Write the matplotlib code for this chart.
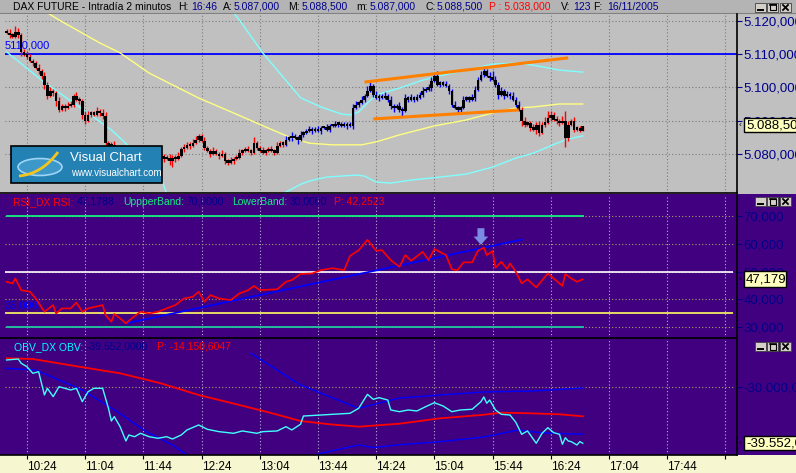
# -*- coding: utf-8 -*-
# DAX future, 2 minute bars of 16/11/2005, redrawn in the Visual Chart look

import matplotlib
matplotlib.use("Agg")
from matplotlib import pyplot as plt
import matplotlib.transforms as mtransforms
from matplotlib.patches import Rectangle, Ellipse, PathPatch
from matplotlib.path import Path
from matplotlib.lines import Line2D
import numpy as np

plt.rcParams["font.family"] = ["Liberation Sans", "DejaVu Sans"]

W, H = 796, 473

# ---- price bars, every 2 minutes from 10:10 to 16:46 ----
first_bar_time = "10:10"
bar_minutes = 2
first_open = 5117.0
closes = [
    5116.5, 5116, 5115.5, 5117, 5116, 5111, 5110, 5109.5, 5108, 5107.5,
    5106, 5105, 5103.5, 5101, 5097.5, 5099, 5098.5, 5096, 5093.5, 5094.5,
    5094, 5094.5, 5095, 5097.5, 5096.5, 5096, 5092, 5090, 5092, 5092.5,
    5092, 5093, 5092.5, 5091.5, 5083.5, 5082.5, 5083, 5082, 5081.5, 5081,
    5080.5, 5081, 5080, 5079.5, 5080, 5079, 5078.5, 5079, 5078, 5078.5,
    5079, 5078.5, 5079, 5079.5, 5078.5, 5079, 5078, 5079, 5078.5, 5079.5,
    5081.5, 5082, 5083, 5082.5, 5083.5, 5084.5, 5085.5, 5084, 5082, 5081,
    5080, 5081, 5080, 5079.5, 5080, 5078, 5077.5, 5078, 5078.5, 5079,
    5080.5, 5081, 5081.5, 5081, 5080.5, 5083.5, 5082, 5081, 5080.5, 5081,
    5081.5, 5081, 5080.5, 5082.5, 5083.5, 5083, 5084.5, 5085, 5085.5, 5085,
    5084.5, 5086, 5086.5, 5087, 5087.5, 5087, 5087.5, 5087, 5088, 5088,
    5087.5, 5088.5, 5088.5, 5089, 5089, 5088.5, 5088.5, 5089, 5088.5, 5094,
    5095, 5095.5, 5096.5, 5097.5, 5099, 5100.5, 5098, 5097, 5097.5, 5097,
    5097.5, 5096.5, 5094.5, 5094, 5094.5, 5093.5, 5093, 5097, 5096.5, 5097,
    5096.5, 5097, 5098, 5099, 5099.5, 5100, 5102, 5103.5, 5101, 5101.5,
    5101, 5100.5, 5099, 5095, 5094, 5093.5, 5094, 5096.5, 5097, 5096.5,
    5097, 5099.5, 5102.5, 5104, 5105, 5103.5, 5103, 5102.5, 5101, 5098,
    5099, 5097.5, 5098, 5097.5, 5096.5, 5095, 5093.5, 5090, 5089, 5089.5,
    5088, 5087.5, 5089, 5086.5, 5089, 5089.5, 5091, 5092, 5090.5, 5090,
    5089.5, 5090, 5085, 5089, 5090, 5087.5, 5088, 5087, 5088.5,
]
# wick length above / below the body, in half points
wick_up = [
    1, 2, 1, 3, 2, 1, 1, 2, 1, 1,  1, 2, 1, 2, 1, 2, 1, 1, 2, 1,
    1, 2, 2, 1, 2, 1, 1, 2, 2, 1,  1, 2, 1, 2, 2, 1, 1, 2, 1, 1,
    1, 1, 2, 1, 1, 2, 1, 1, 2, 1,  1, 2, 1, 2, 1, 1, 2, 1, 1, 2,
    1, 2, 1, 1, 2, 2, 1, 1, 2, 1,  1, 2, 1, 1, 2, 1, 1, 2, 1, 1,
    2, 1, 1, 2, 1, 3, 1, 1, 2, 1,  1, 2, 1, 2, 1, 1, 2, 1, 2, 1,
    1, 2, 1, 1, 2, 1, 1, 2, 1, 1,  2, 1, 1, 2, 1, 1, 2, 1, 1, 2,
    2, 1, 2, 1, 3, 2, 1, 2, 1, 1,  2, 1, 2, 1, 1, 2, 1, 2, 1, 2,
    1, 2, 1, 2, 1, 2, 2, 1, 3, 1,  1, 2, 1, 1, 2, 1, 1, 2, 1, 1,
    2, 2, 1, 2, 2, 1, 2, 4, 2, 1,  2, 1, 2, 1, 2, 1, 2, 1, 2, 1,
    1, 2, 1, 2, 1, 3, 4, 2, 1, 2,  1, 3, 6, 2, 1, 2, 1, 1, 0,
]
wick_dn = [
    1, 2, 1, 1, 2, 3, 1, 2, 1, 2,  1, 2, 2, 3, 2, 1, 2, 3, 2, 1,
    2, 1, 1, 2, 1, 2, 3, 2, 1, 2,  1, 1, 2, 2, 4, 2, 1, 2, 1, 1,
    2, 1, 1, 2, 1, 1, 2, 1, 1, 2,  1, 2, 1, 1, 2, 1, 3, 4, 2, 1,
    1, 2, 1, 2, 1, 1, 2, 1, 2, 1,  2, 1, 1, 2, 1, 2, 2, 1, 2, 1,
    1, 2, 1, 1, 2, 1, 2, 1, 1, 2,  1, 1, 2, 1, 1, 2, 1, 1, 2, 1,
    3, 1, 2, 1, 1, 2, 1, 1, 2, 1,  1, 2, 1, 1, 2, 1, 1, 2, 1, 2,
    1, 2, 1, 2, 1, 1, 2, 1, 2, 1,  1, 2, 2, 3, 1, 2, 3, 1, 2, 1,
    2, 1, 1, 2, 1, 1, 2, 1, 1, 2,  1, 1, 2, 2, 1, 3, 2, 1, 1, 2,
    1, 2, 1, 1, 2, 1, 2, 1, 2, 3,  1, 2, 1, 2, 1, 2, 1, 3, 2, 1,
    2, 1, 3, 2, 1, 2, 1, 2, 1, 2,  2, 1, 6, 2, 1, 2, 1, 1, 0,
]
blue_from, blue_to = 96, 176  # bars painted blue

# overlays on the price window (bar number, price)
ma_bar = [13, 18, 32, 39, 49, 66, 78, 89, 97, 101, 104, 112, 122, 127, 135, 147, 158, 167, 175, 181, 190, 198]
ma_val = [5123.0, 5120.3, 5113.4, 5110.4, 5104.3, 5096.8, 5092.3, 5088.1, 5085.1, 5084.0, 5083.2, 5082.7,
          5082.7, 5083.6, 5085.7, 5088.4, 5090.2, 5092.3, 5093.8, 5094.1, 5095.0, 5095.0]
bb_up_bar = [77, 80, 88, 101, 108, 115, 118, 121, 124, 127, 135, 143, 150, 158, 167, 175, 181, 190, 198]
bb_up_val = [5123.5, 5120.3, 5110.4, 5096.9, 5094.1, 5092.0, 5091.7, 5092.6, 5095.3, 5097.7, 5099.8,
             5102.2, 5103.7, 5105.2, 5107.0, 5107.3, 5106.7, 5105.2, 5104.6]
bb_dn_bar = [0, 12, 25, 36, 46, 53, 55, 65, 80, 95, 101, 104, 110, 120, 123, 127, 132, 139, 149, 158,
             167, 175, 181, 187, 192, 198]
bb_dn_val = [5110.7, 5102.2, 5094.1, 5087.2, 5079.0, 5073.0, 5068.0, 5063.5, 5062.5, 5068.0, 5070.8,
             5071.8, 5073.0, 5073.6, 5073.3, 5071.5, 5071.2, 5072.1, 5073.0, 5073.9, 5076.0, 5078.7,
             5080.2, 5082.4, 5084.2, 5085.4]
chan_up_bar, chan_up_val = [123, 193], [5101.6, 5108.9]
chan_dn_bar, chan_dn_val = [126, 176], [5090.5, 5093.2]
level_line = 5110
price_ticks = [5080, 5090, 5100, 5110, 5120]
price_tick_labels = ["5.080,000", "5.090,000", "5.100,000", "5.110,000", "5.120,000"]
last_price_label = "5.088,50"

# ---- RSI window ----
rsi_bar = [0, 2, 3, 5, 8, 10, 13, 16, 17, 19, 22, 24, 26, 28, 33, 34, 36, 37, 39, 41,
           43, 46, 49, 52, 55, 58, 61, 64, 66, 68, 70, 73, 77, 80, 83, 85, 87, 93, 96, 98,
           101, 105, 108, 112, 116, 118, 121, 124, 127, 129, 132, 135, 137, 139, 140, 143, 145, 147, 151, 153,
           155, 157, 160, 162, 164, 165, 167, 168, 170, 172, 173, 175, 177, 179, 182, 186, 188, 191, 192, 194,
           196, 198]
rsi_val = [46.3, 45.7, 47.5, 43.3, 42.7, 40.3, 35.5, 37.9, 34.9, 36.7, 36.7, 38.8, 35.5, 36.7, 37.9, 34.3, 31.9, 34.7, 33.1, 31.3,
           33.1, 35.5, 34.9, 35.5, 36.7, 37.9, 40.3, 40.9, 42.7, 39.1, 41.5, 40.3, 39.7, 42.1, 43.3, 44.8, 43.3, 43.6, 46.3, 46.9,
           49.1, 49.3, 50.5, 51.2, 50.5, 55.6, 57.7, 61.4, 57.5, 57.7, 54.1, 51.7, 55.9, 53.9, 54.7, 57.1, 54.1, 58.1, 55.9, 50.8,
           50.5, 53.3, 53.3, 57.5, 58.6, 55.9, 57.4, 51.4, 53.5, 50.9, 52.9, 49.9, 45.7, 47.2, 44.3, 49.3, 47.5, 44.8, 49.1, 47.5,
           46.3, 47.18]
rsi_upper, rsi_lower = 70, 30
rsi_mid, rsi_level = 50, 35
rsi_trend_bar, rsi_trend_val = [41, 177], [31.3, 61.5]
arrow_bar, arrow_from, arrow_to = 163, 65.6, 59.6
rsi_ticks = [30, 40, 50, 60, 70]
rsi_tick_labels = ["30,000", "40,000", "50,000", "60,000", "70,000"]

# ---- OBV window ----
obv_bar = [0, 4, 5, 7, 9, 11, 13, 14, 16, 18, 20, 22, 24, 26, 28, 30, 33, 35, 36, 37,
           39, 41, 42, 44, 46, 49, 52, 55, 57, 60, 62, 66, 69, 73, 78, 81, 86, 88, 93, 96,
           98, 101, 102, 108, 112, 118, 121, 124, 126, 128, 131, 132, 135, 138, 141, 144, 147, 150, 153, 156,
           160, 163, 164, 165, 166, 168, 170, 173, 175, 177, 179, 182, 184, 186, 188, 190, 191, 192, 193, 194,
           196, 197, 198]
obv_val = [-25340, -25170, -25900, -26490, -27610, -27340, -31310, -30170, -31600, -29900,
           -30170, -30460, -30170, -32460, -30750, -30170, -30170, -33580, -35750, -35010,
           -36720, -39160, -38140, -38430, -37850, -38430, -38700, -38430, -38820, -38140,
           -37280, -36430, -37170, -37570, -37850, -37450, -37850, -37570, -37450, -36720,
           -37280, -36310, -34900, -34730, -34610, -34440, -33580, -31200, -32050, -31770,
           -32170, -33870, -34160, -33870, -34040, -33310, -32630, -33190, -34160, -33870,
           -33750, -32460, -31650, -32730, -32170, -33870, -34610, -34730, -35980, -38020,
           -37450, -39550, -37850, -36890, -37740, -38020, -39720, -38600, -39160, -39270,
           -39840, -39270, -39552]
obv_avg_bar = [0, 9, 25, 39, 53, 66, 80, 90, 101, 111, 121, 135, 149, 163, 170, 180, 190, 198]
obv_avg_val = [-25050, -25170, -26490, -27610, -29320, -31310, -33020, -34270, -35750, -36310,
               -36720, -36210, -35290, -34730, -34330, -34440, -34610, -34950]
obv_up_bar = [84, 101, 121, 135, 149, 164, 181, 198]
obv_up_val = [-24200, -29610, -33580, -31830, -31310, -30800, -30630, -30120]
obv_dn_bar = [0, 10, 26, 38, 48, 57, 62, 75, 95, 108, 121, 126, 135, 149, 164, 176, 182, 190, 198]
obv_dn_val = [-26760, -27050, -30460, -34160, -37570, -39840, -41550, -44000, -43500, -41260,
              -39840, -40300, -39800, -39280, -38480, -37280, -37680, -37900, -38000]
obv_ticks = [-30000]
obv_tick_labels = ["-30.000,0"]

time_labels = ["10:24", "11:04", "11:44", "12:24", "13:04", "13:44",
               "14:24", "15:04", "15:44", "16:24", "17:04", "17:44", "18:24"]

# colours
GRAY = "#c0c0c0"
PURPLE = "#400080"
NAVY = "#00008b"
GRID_DARK = "#7c7c7c"
GRID_LIGHT = "#b8b0d8"
GRID_OLIVE = "#a8a060"
DOTS = (0, (1, 2))


def to_bar(t):
    h, m = t.split(":")
    h0, m0 = first_bar_time.split(":")
    return (int(h) * 60 + int(m) - int(h0) * 60 - int(m0)) / bar_minutes


tick_bars = [to_bar(t) for t in time_labels]

fig = plt.figure(figsize=(W / 100, H / 100), dpi=100)
fig.patch.set_facecolor(GRAY)
# pixel coordinates, origin top-left
T = mtransforms.Affine2D().scale(1.0 / W, -1.0 / H).translate(0, 1) + fig.transFigure


def rect_px(x, y, w, h):
    return [x / W, 1 - (y + h) / H, w / W, h / H]


for x, y, w, h, c in [(0, 0, W, 14, "#b4b4b4"), (0, 194, W, 145, PURPLE),
                      (0, 339, W, 116, PURPLE), (0, 455, W, 18, "#f6f6d0")]:
    fig.add_artist(Rectangle((x, y), w, h, transform=T, facecolor=c,
                             edgecolor="none", zorder=-10))
fig.add_artist(Line2D([0, W], [13.5, 13.5], transform=T, color="#808080", lw=0.8, zorder=-9))

ax_p = fig.add_axes(rect_px(0, 14, 737, 179), facecolor=GRAY)
ax_r = fig.add_axes(rect_px(0, 195, 737, 143), facecolor=PURPLE)
ax_o = fig.add_axes(rect_px(0, 339, 737, 116), facecolor=PURPLE)

for ax, gcol in ((ax_p, GRID_DARK), (ax_r, GRID_LIGHT), (ax_o, GRID_LIGHT)):
    ax.set_xlim(-2.27, 251.0)
    for s in ("top", "left"):
        ax.spines[s].set_visible(False)
    for s in ("right", "bottom"):
        ax.spines[s].set_color("black")
        ax.spines[s].set_linewidth(1.2)
    ax.yaxis.tick_right()
    ax.set_xticks(tick_bars)
    ax.tick_params(axis="y", direction="out", length=3.6, width=0.8, color=NAVY,
                   labelcolor=NAVY, labelsize=9.5, pad=1.0)
    ax.grid(axis="x", color=gcol, linestyle=DOTS, linewidth=0.8)
    ax.set_axisbelow(True)

ax_p.tick_params(axis="x", length=0, labelbottom=False)
ax_r.tick_params(axis="x", length=0, labelbottom=False)
ax_o.tick_params(axis="x", direction="out", length=3, width=0.8, color="black",
                 labelcolor="black", labelsize=8.5, pad=1.5)
ax_o.set_xticklabels(time_labels[:-1] + [""], ha="left")

# ---- price window ----
ax_p.set_ylim(5068.2, 5122.1)
ax_p.set_yticks(price_ticks)
ax_p.set_yticklabels(price_tick_labels)
ax_p.hlines(price_ticks, -0.5, 251, colors=GRID_DARK, linestyles=DOTS, linewidth=0.8, zorder=1)
ax_p.hlines(level_line, -0.5, 251, colors="#0000ff", linewidth=1.3, zorder=2)

ax_p.plot(ma_bar, ma_val, color="#ffff80", lw=1.0, zorder=2)
ax_p.plot(bb_up_bar, bb_up_val, color="#80ffff", lw=1.0, zorder=2)
ax_p.plot(bb_dn_bar, bb_dn_val, color="#80ffff", lw=1.0, zorder=2)

bars = np.arange(len(closes))
c = np.array(closes)
o = np.r_[first_open, c[:-1]]
hi = np.maximum(o, c) + np.array(wick_up) * 0.5
lo = np.minimum(o, c) - np.array(wick_dn) * 0.5
col = np.where((bars >= blue_from) & (bars <= blue_to), "#0000ff", "#ff0000")
ax_p.vlines(bars, lo, hi, colors=col, lw=1.0, zorder=3)
ax_p.bar(bars, np.maximum(np.abs(c - o), 0.7), bottom=np.minimum(o, c) - 0.2, width=0.9,
         color="black", linewidth=0, zorder=4)

ax_p.plot(chan_up_bar, chan_up_val, color="#ff8000", lw=2.2, zorder=5, solid_capstyle="butt")
ax_p.plot(chan_dn_bar, chan_dn_val, color="#ff8000", lw=2.2, zorder=5, solid_capstyle="butt")

fig.text(5, 46, "5110,000", transform=T, color="#0000ff", fontsize=8, va="center", zorder=3)

# ---- RSI window ----
ax_r.set_ylim(26.04, 77.57)
ax_r.set_yticks(rsi_ticks)
ax_r.set_yticklabels(rsi_tick_labels)
ax_r.hlines(rsi_ticks, -0.5, 249.5, colors=GRID_OLIVE, linestyles=DOTS, linewidth=0.8, zorder=1)
ax_r.plot([bars[0], bars[-1]], [rsi_upper, rsi_upper], color="#10f080", lw=1.3, zorder=2)
ax_r.plot([bars[0], bars[-1]], [rsi_lower, rsi_lower], color="#20c8a0", lw=1.3, zorder=2)
ax_r.hlines(rsi_mid, -0.5, 249.5, colors="#ffffff", lw=1.2, zorder=2)
ax_r.hlines(rsi_level, -0.5, 249.5, colors="#ffff60", lw=1.2, zorder=2)
ax_r.plot(rsi_trend_bar, rsi_trend_val, color="#0000ff", lw=1.3, zorder=3)
ax_r.plot(rsi_bar, rsi_val, color="#ff0000", lw=1.2, zorder=4)
ax_r.annotate("", xy=(arrow_bar, arrow_to), xytext=(arrow_bar, arrow_from),
              arrowprops=dict(width=5, headwidth=10.5, headlength=6, shrink=0,
                              facecolor="#7b8de2", edgecolor="none"), zorder=5)
fig.text(5, 305.5, "35,000", transform=T, color="#0000ff", fontsize=8, va="center", zorder=3)

# ---- OBV window ----
ax_o.set_ylim(-41553, -21758)
ax_o.set_yticks(obv_ticks)
ax_o.set_yticklabels(obv_tick_labels)
ax_o.hlines(obv_ticks, -0.5, 249.5, colors=GRID_OLIVE, linestyles=DOTS, linewidth=0.8, zorder=1)
ax_o.plot(obv_up_bar, obv_up_val, color="#0000ff", lw=1.0, zorder=2)
ax_o.plot(obv_dn_bar, obv_dn_val, color="#0000ff", lw=1.0, zorder=2)
ax_o.plot(obv_avg_bar, obv_avg_val, color="#ff0000", lw=1.3, zorder=3)
ax_o.plot(obv_bar, obv_val, color="#40ffff", lw=1.0, zorder=4)


# ---- headers ----
def segments(items, y, size=7.5):
    for x, s, colr in items:
        fig.text(x, y, s, transform=T, color=colr, fontsize=size, va="center", ha="left", zorder=6)


segments([(13, "DAX FUTURE - Intradía 2 minutos", "black"), (178, "H:", "black"), (191, "16:46", NAVY),
          (223, "A:", "black"), (234, "5.087,000", NAVY), (288, "M:", "black"), (302, "5.088,500", NAVY),
          (356, "m:", "black"), (370, "5.087,000", NAVY), (425, "C:", "black"), (437, "5.088,500", NAVY),
          (489, "P : 5.038,000", "#ff0000"), (561, "V:", "black"), (573, "123", NAVY),
          (593, "F:", "black"), (607, "16/11/2005", NAVY)], 6.8)
segments([(13, "RSI_DX RSI:", "#ff0000"), (77, "47,1788", NAVY), (123, "UppperBand:", "#10f080"),
          (186, "70,0000", NAVY), (232, "LowerBand:", "#10f080"), (290, "30,0000", NAVY),
          (334, "P: 42,2523", "#ff0000")], 201.7)
segments([(14, "OBV_DX OBV:", "#00ffff"), (87, "-39.552,0000", NAVY),
          (157, "P: -14.150,6047", "#ff0000")], 346.7)

# ---- last value boxes on the right scales ----
for y, h, txt in [(118, 14, last_price_label), (271, 16, "47,179"), (436, 14, "-39.552,0")]:
    w = 42 if txt == "47,179" else 60
    fig.add_artist(Rectangle((744, y), w, h, transform=T, facecolor="#ffffc0",
                             edgecolor="black", lw=1.0, zorder=7))
    fig.text(746, y + h / 2 + 0.5, txt, transform=T, color="black", fontsize=9.5,
             va="center", ha="left", zorder=8)
    fig.text(738.5, y + h / 2, "‹", transform=T, color="black", fontsize=6,
             va="center", ha="left", zorder=8)


# ---- window buttons ----
def buttons(y):
    for x in (755, 767, 780):
        fig.add_artist(Rectangle((x, y), 11, 9, transform=T, facecolor="#d4d0c8",
                                 edgecolor="#404040", lw=0.6, zorder=8))
    fig.add_artist(Line2D([758, 763], [y + 7, y + 7], transform=T, color="black", lw=1.4, zorder=9))
    fig.add_artist(Rectangle((769.5, y + 1.5), 6, 6, transform=T, facecolor="none",
                             edgecolor="black", lw=0.8, zorder=9))
    fig.add_artist(Line2D([769.5, 775.5], [y + 2, y + 2], transform=T, color="black", lw=1.2, zorder=9))
    fig.add_artist(Line2D([783, 788], [y + 2, y + 7], transform=T, color="black", lw=1.3, zorder=9))
    fig.add_artist(Line2D([783, 788], [y + 7, y + 2], transform=T, color="black", lw=1.3, zorder=9))


for y in (3, 197, 342):
    buttons(y)

# ---- Visual Chart badge ----
fig.add_artist(Rectangle((11, 146), 151, 37, transform=T, facecolor="#2381b3",
                         edgecolor="black", lw=1.2, zorder=7))
fig.add_artist(Ellipse((40, 167), 44, 17, transform=T, facecolor="#3c98c8",
                       edgecolor="#a0d4f4", lw=1.2, zorder=8))
swoosh = Path([(19, 176), (42, 174), (58, 152)], [Path.MOVETO, Path.CURVE3, Path.CURVE3])
fig.add_artist(PathPatch(swoosh, transform=T, facecolor="none", edgecolor="#f2c420", lw=2.0, zorder=9))
fig.text(70, 158, "Visual Chart", transform=T, color="white", fontsize=9.5, va="center", zorder=9)
fig.text(71, 172.5, "www.visualchart.com", transform=T, color="white", fontsize=7, va="center", zorder=9)

fig.savefig("out.png", dpi=100)
